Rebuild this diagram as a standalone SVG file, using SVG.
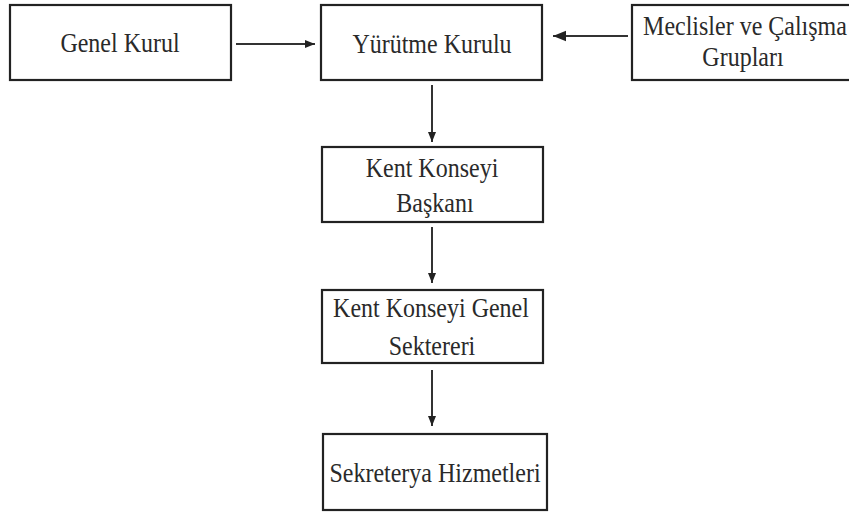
<svg xmlns="http://www.w3.org/2000/svg" width="849" height="512" viewBox="0 0 849 512">
<defs>
<style>
.box{fill:#fff;stroke:#222;stroke-width:2.2}
.t{font-family:'Liberation Serif','Times New Roman',serif;font-size:24px;fill:#2a2a2a;text-anchor:middle}
.c{stroke:#333;stroke-width:2;fill:none}
</style>
<marker id="ah" viewBox="0 0 10 10" refX="10" refY="5" markerWidth="10" markerHeight="10" markerUnits="userSpaceOnUse" orient="auto">
<path d="M0,1 L10,5 L0,9 Z" fill="#222"/>
</marker>
<marker id="ah2" viewBox="0 0 10 10" refX="10" refY="5" markerWidth="13" markerHeight="13" markerUnits="userSpaceOnUse" orient="auto">
<path d="M0,1 L10,5 L0,9 Z" fill="#222"/>
</marker>
</defs>
<rect width="849" height="512" fill="#fff"/>
<g id="connectors">
<line class="c" x1="236" y1="44" x2="315" y2="44" marker-end="url(#ah)"/>
<line class="c" x1="628" y1="36" x2="553" y2="36" stroke-width="3" marker-end="url(#ah2)"/>
<line class="c" x1="432" y1="85" x2="432" y2="142" marker-end="url(#ah)"/>
<line class="c" x1="432" y1="227" x2="432" y2="283" marker-end="url(#ah)"/>
<line class="c" x1="432" y1="370" x2="432" y2="426" marker-end="url(#ah)"/>
</g>
<g id="genel-kurul">
<rect class="box" x="10" y="5" width="221" height="75"/>
<text class="t" transform="translate(120,52) scale(1,1.12)">Genel Kurul</text>
</g>
<g id="yurutme-kurulu">
<rect class="box" x="321" y="5" width="221" height="75"/>
<text class="t" transform="translate(432,53) scale(1,1.12)">Yürütme Kurulu</text>
</g>
<g id="meclisler">
<rect class="box" x="632" y="5" width="220" height="75"/>
<text class="t" transform="translate(745,35) scale(1,1.12)">Meclisler ve Çalışma</text>
<text class="t" transform="translate(743,66) scale(1,1.12)">Grupları</text>
</g>
<g id="baskan">
<rect class="box" x="322" y="147" width="221" height="75"/>
<text class="t" transform="translate(432,177) scale(1,1.12)">Kent Konseyi</text>
<text class="t" transform="translate(435,212) scale(1,1.12)">Başkanı</text>
</g>
<g id="genel-sekreter">
<rect class="box" x="322" y="290" width="221" height="73"/>
<text class="t" transform="translate(431,317) scale(1,1.12)">Kent Konseyi Genel</text>
<text class="t" transform="translate(432,355) scale(1,1.12)">Sektereri</text>
</g>
<g id="sekreterya">
<rect class="box" x="323" y="434" width="224" height="76"/>
<text class="t" transform="translate(435,482) scale(1,1.12)">Sekreterya Hizmetleri</text>
</g>
</svg>
